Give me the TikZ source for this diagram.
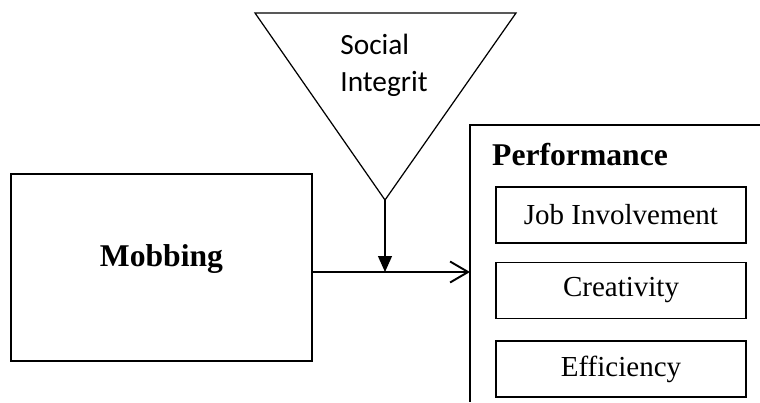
\documentclass[tikz,border=0pt]{standalone}
\usepackage{fontspec}
\setmainfont{Liberation Serif}
\newfontfamily\calibri{Carlito}
\usepackage{tikz}
\usetikzlibrary{arrows.meta}

\tikzset{
    varbox/.style={draw, line width=1.1pt, rectangle, inner sep=0pt},
    dimbox/.style={draw, line width=1.1pt, rectangle, minimum width=5cm, minimum height=1.12cm, font=\fontsize{16.5}{19}\selectfont},
}

\begin{document}
\begin{tikzpicture}
    \useasboundingbox (0, 0) rectangle (15.2, 8.04);

    % moderator triangle
    \coordinate (triL) at (5.10, 7.78);
    \coordinate (triR) at (10.32, 7.78);
    \coordinate (apex) at (7.70, 4.04);
    \draw[line width=0.7pt] (triL) -- (triR) -- (apex) -- cycle;
    \node[align=left, font=\calibri\fontsize{16.7}{21}\selectfont] at (7.68, 6.73) (soc) {Social\\Integrit};

    % independent variable
    \node[varbox, minimum width=6.02cm, minimum height=3.74cm] at (3.23, 2.69) (mob) {};
    \node[font=\bfseries\fontsize{18}{21}\selectfont] at (3.23, 2.86) (mobtxt) {Mobbing};

    % dependent variable, frame runs off the page
    \draw[line width=1.1pt] (15.2, 5.54) -- (9.40, 5.54) -- (9.40, 0);
    \node[anchor=base west, font=\bfseries\fontsize{18}{21}\selectfont] at (9.72, 4.74) (perf) {Performance};
    \node[dimbox] at (12.42, 3.74) (job) {Job Involvement};
    \node[dimbox] at (12.42, 2.23) (crea) {Creativity};
    \node[dimbox] at (12.42, 0.66) (eff) {Efficiency};

    \coordinate (join) at (7.70, 2.60);
    \coordinate (perfW) at (9.40, 2.60);

    \draw[line width=1.1pt, -{Straight Barb[length=0.36cm, width=0.42cm, line width=1.1pt]}] (mob.east |- join) -- (perfW);
    \draw[line width=0.7pt, -{Triangle[length=0.32cm, width=0.28cm]}] (apex) -- (join);
\end{tikzpicture}
\end{document}
